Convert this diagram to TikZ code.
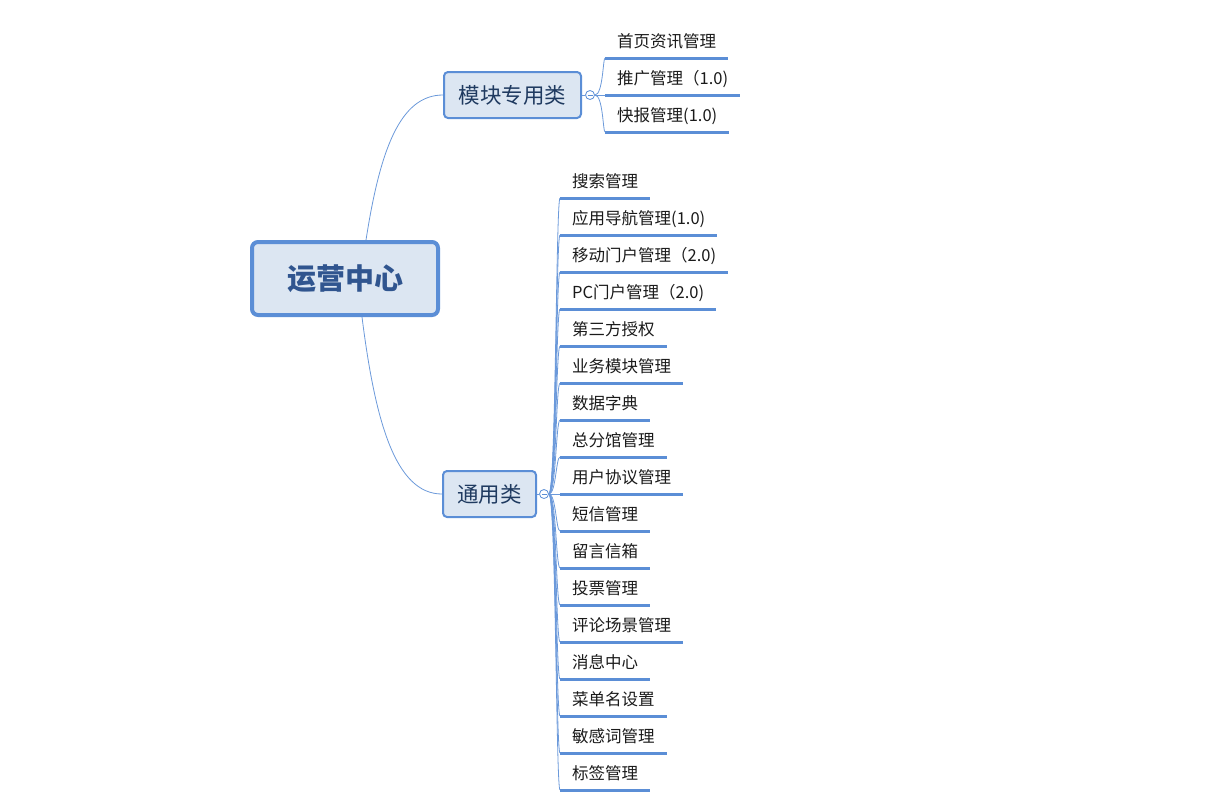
\documentclass[tikz,border=0pt]{standalone}
\usepackage{fontspec}
\setmainfont{Noto Sans CJK SC}
\definecolor{linkblue}{HTML}{5B8ED6}
\definecolor{boxfill}{HTML}{DCE6F2}
\definecolor{roottext}{HTML}{30558F}
\definecolor{subtext}{HTML}{1F3A60}
\definecolor{leaftext}{HTML}{1A1A1A}

\begin{document}
\begin{tikzpicture}[x=1pt,y=-1pt,
  rootbox/.style={draw=linkblue,line width=4pt,fill=boxfill,rounded corners=6pt,minimum width=186pt,minimum height=73pt,text=roottext,font=\fontsize{29}{32}\selectfont\bfseries},
  subbox/.style={draw=linkblue,line width=2pt,fill=boxfill,rounded corners=4pt,minimum height=46pt,inner sep=0pt,text=subtext,font=\fontsize{21.5}{24}\selectfont},
  leaf/.style={anchor=south west,inner xsep=12pt,inner ysep=7pt,text height=12pt,text depth=3pt,text=leaftext,font=\fontsize{16.5}{20}\selectfont},
  leafline/.style={draw=linkblue,line width=3pt},
  link/.style={draw=linkblue!90,line width=0.8pt},
  fold/.style={circle,draw=linkblue,fill=white,inner sep=0pt,minimum size=9pt,line width=0.8pt,
    path picture={\draw[linkblue,line width=0.8pt] ([xshift=-2.5pt]path picture bounding box.center) -- ([xshift=2.5pt]path picture bounding box.center);}}]

\useasboundingbox (0,0) rectangle (1230,807);

% main nodes
\node[rootbox] (root) at (345,278.5) {运营中心};
\node[subbox,minimum width=137pt] (mod) at (512.5,95) {模块专用类};
\node[subbox,minimum width=93pt] (gen) at (489.5,494) {通用类};

\coordinate (rtop) at (366,240);
\coordinate (rbot) at (362,317);
\draw[link] (rtop) .. controls (380,150) and (400,95) .. (mod.west);
\draw[link] (rbot) .. controls (375,420) and (395,494) .. (gen.west);

\node[fold] (fmod) at (590,95) {};
\node[fold] (fgen) at (544,494) {};
\draw[link] (mod.east) -- (fmod.west);
\draw[link] (gen.east) -- (fgen.west);

% module branch
\node[leaf] (a1) at (605,58) {首页资讯管理};
\node[leaf] (a2) at (605,95) {推广管理（1.0)};
\node[leaf] (a3) at (605,132) {快报管理(1.0)};

\draw[link] (fmod.east) .. controls (603,95) and (603,58) .. (a1.south west);
\draw[link] (fmod.east) -- (a2.south west);
\draw[link] (fmod.east) .. controls (603,95) and (603,132) .. (a3.south west);

\draw[leafline] (a1.south west) -- (a1.south east);
\draw[leafline] (a2.south west) -- (a2.south east);
\draw[leafline] (a3.south west) -- (a3.south east);

% general branch
\node[leaf] (b1) at (560,198) {搜索管理};
\node[leaf] (b2) at (560,235) {应用导航管理(1.0)};
\node[leaf] (b3) at (560,272) {移动门户管理（2.0)};
\node[leaf] (b4) at (560,309) {PC门户管理（2.0)};
\node[leaf] (b5) at (560,346) {第三方授权};
\node[leaf] (b6) at (560,383) {业务模块管理};
\node[leaf] (b7) at (560,420) {数据字典};
\node[leaf] (b8) at (560,457) {总分馆管理};
\node[leaf] (b9) at (560,494) {用户协议管理};
\node[leaf] (b10) at (560,531) {短信管理};
\node[leaf] (b11) at (560,568) {留言信箱};
\node[leaf] (b12) at (560,605) {投票管理};
\node[leaf] (b13) at (560,642) {评论场景管理};
\node[leaf] (b14) at (560,679) {消息中心};
\node[leaf] (b15) at (560,716) {菜单名设置};
\node[leaf] (b16) at (560,753) {敏感词管理};
\node[leaf] (b17) at (560,790) {标签管理};

\draw[link] (fgen.east) .. controls (556,494) and (556,198) .. (b1.south west);
\draw[link] (fgen.east) .. controls (556,494) and (556,235) .. (b2.south west);
\draw[link] (fgen.east) .. controls (556,494) and (556,272) .. (b3.south west);
\draw[link] (fgen.east) .. controls (556,494) and (556,309) .. (b4.south west);
\draw[link] (fgen.east) .. controls (556,494) and (556,346) .. (b5.south west);
\draw[link] (fgen.east) .. controls (556,494) and (556,383) .. (b6.south west);
\draw[link] (fgen.east) .. controls (556,494) and (556,420) .. (b7.south west);
\draw[link] (fgen.east) .. controls (556,494) and (556,457) .. (b8.south west);
\draw[link] (fgen.east) -- (b9.south west);
\draw[link] (fgen.east) .. controls (556,494) and (556,531) .. (b10.south west);
\draw[link] (fgen.east) .. controls (556,494) and (556,568) .. (b11.south west);
\draw[link] (fgen.east) .. controls (556,494) and (556,605) .. (b12.south west);
\draw[link] (fgen.east) .. controls (556,494) and (556,642) .. (b13.south west);
\draw[link] (fgen.east) .. controls (556,494) and (556,679) .. (b14.south west);
\draw[link] (fgen.east) .. controls (556,494) and (556,716) .. (b15.south west);
\draw[link] (fgen.east) .. controls (556,494) and (556,753) .. (b16.south west);
\draw[link] (fgen.east) .. controls (556,494) and (556,790) .. (b17.south west);

\draw[leafline] (b1.south west) -- (b1.south east);
\draw[leafline] (b2.south west) -- (b2.south east);
\draw[leafline] (b3.south west) -- (b3.south east);
\draw[leafline] (b4.south west) -- (b4.south east);
\draw[leafline] (b5.south west) -- (b5.south east);
\draw[leafline] (b6.south west) -- (b6.south east);
\draw[leafline] (b7.south west) -- (b7.south east);
\draw[leafline] (b8.south west) -- (b8.south east);
\draw[leafline] (b9.south west) -- (b9.south east);
\draw[leafline] (b10.south west) -- (b10.south east);
\draw[leafline] (b11.south west) -- (b11.south east);
\draw[leafline] (b12.south west) -- (b12.south east);
\draw[leafline] (b13.south west) -- (b13.south east);
\draw[leafline] (b14.south west) -- (b14.south east);
\draw[leafline] (b15.south west) -- (b15.south east);
\draw[leafline] (b16.south west) -- (b16.south east);
\draw[leafline] (b17.south west) -- (b17.south east);

\end{tikzpicture}
\end{document}
